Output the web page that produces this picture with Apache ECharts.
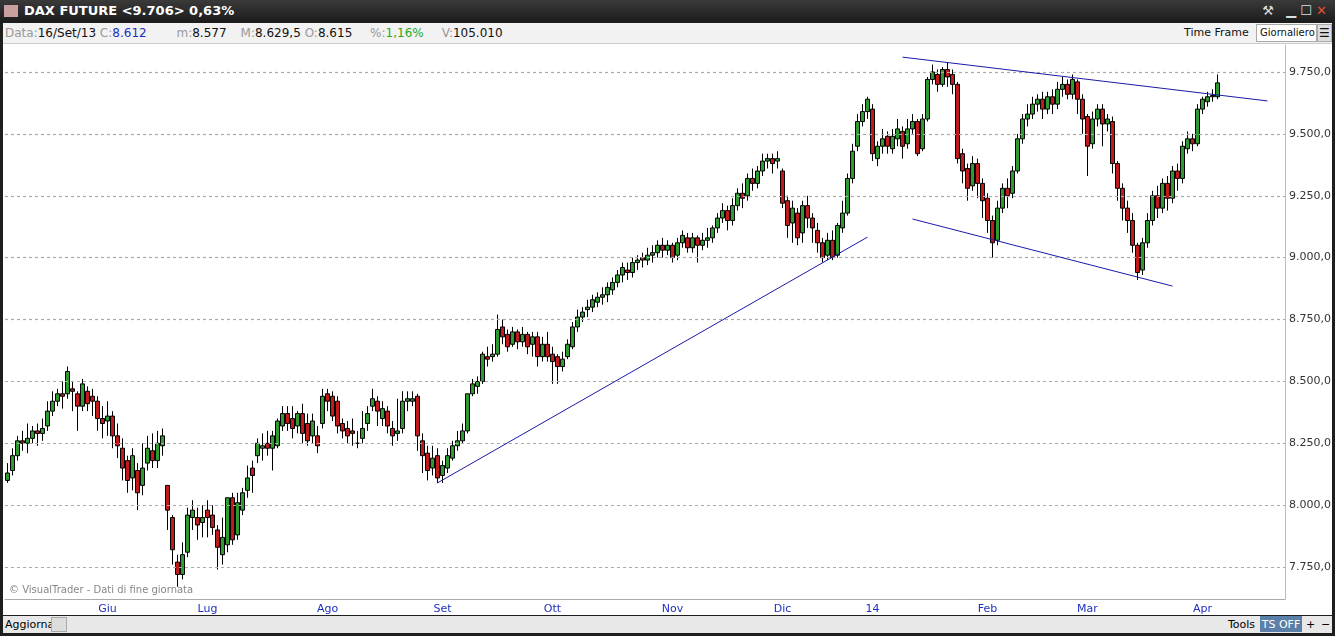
<!DOCTYPE html>
<html><head><meta charset="utf-8">
<script src="https://cdn.jsdelivr.net/npm/echarts@6/dist/echarts.min.js"></script>
<style>
body{margin:0;width:1335px;height:636px;background:#1e1e1e;font-family:Tahoma,"DejaVu Sans",sans-serif;overflow:hidden;position:relative}
#title{position:absolute;left:0;top:0;width:1335px;height:22px;background:linear-gradient(#3a3a3a,#1c1c1c);color:#fff;font:bold 13px "DejaVu Sans";line-height:22px}
#info{position:absolute;left:3px;top:23px;width:1329px;height:20px;background:#f2f2f2;font:12px "DejaVu Sans";line-height:20px;color:#999;border-bottom:1px solid #ccc}
#info b{font-weight:normal;color:#111}
#chart{position:absolute;left:3px;top:44px;width:1329px;height:571px;background:#fff}
#foot{position:absolute;left:3px;top:616px;width:1329px;height:17px;background:#e8e8e8;font:11px "DejaVu Sans";line-height:17px;color:#000}
</style></head><body>
<div id="title"><span style="display:inline-block;width:14px;height:12px;background:#c9a0a0;margin:0 6px 0 4px;vertical-align:-2px"></span>DAX FUTURE &lt;9.706&gt; 0,63%
<span style="position:absolute;right:8px;top:0;color:#ddd;font-weight:normal">⚒&nbsp;&nbsp;&nbsp;▁ ☐ <span style="color:#e05030">✕</span></span></div>
<div id="info"><span style="margin-left:2px">Data:<b>16/Set/13</b> C:<b style="color:#2030c0">8.612</b></span>
<span style="margin-left:26px">m:<b>8.577</b></span><span style="margin-left:14px">M:<b>8.629,5</b></span> <span>O:<b>8.615</b></span>
<span style="margin-left:14px">%:<b style="color:#22aa22">1,16%</b></span><span style="margin-left:18px">V:<b>105.010</b></span>
<span style="position:absolute;left:1181px;color:#111;font-size:11px">Time Frame</span>
<span style="position:absolute;left:1253px;top:1px;width:56px;height:16px;line-height:16px;background:#fff;border:1px solid #aaa;color:#111;padding-left:3px;font-size:10px">Giornaliero</span>
<span style="position:absolute;left:1314px;top:1px;width:13px;height:16px;background:#ddd;border:1px solid #aaa;color:#111;text-align:center;line-height:16px">☰</span></div>
<div id="chart"></div>
<div id="foot"><span style="margin-left:2px">Aggiorna</span>
<span style="position:absolute;left:48px;top:1px;width:14px;height:13px;border:1px solid #aaa;background:#ddd"></span>
<span style="position:absolute;left:1225px">Tools</span>
<span style="position:absolute;left:1257px;top:0;width:42px;height:16px;background:#5a7fa8;color:#fff;text-align:center">TS OFF</span>
<span style="position:absolute;left:1303px">+</span><span style="position:absolute;left:1318px">−</span></div>
<script>
// candles: [open, close, low, high]
const candles = [
[8100,8130,8090,8170],[8140,8200,8120,8230],[8200,8260,8180,8280],[8260,8250,8220,8300],[8250,8270,8210,8330],[8270,8300,8250,8320],[8300,8290,8240,8330],[8290,8310,8260,8350],[8320,8380,8300,8420],[8380,8420,8360,8460],
[8420,8450,8400,8470],[8450,8440,8390,8500],[8450,8540,8430,8560],[8470,8460,8380,8500],[8450,8400,8300,8460],[8400,8490,8380,8510],[8460,8410,8380,8480],[8440,8420,8360,8470],[8420,8350,8300,8440],[8350,8330,8270,8400],
[8340,8360,8280,8420],[8360,8280,8230,8380],[8280,8240,8190,8330],[8230,8150,8100,8270],[8180,8100,8050,8200],[8110,8200,8060,8230],[8140,8050,7980,8170],[8080,8150,8040,8250],[8170,8230,8140,8280],[8220,8180,8150,8290],
[8180,8250,8150,8300],[8240,8280,8200,8310],[8080,7980,7900,8080],[7950,7820,7760,7960],[7770,7720,7670,7800],[7720,7800,7700,7850],[7810,7960,7790,7990],[7950,7980,7900,8020],[7950,7920,7860,7990],[7930,7950,7870,8000],
[7980,7950,7870,8020],[7960,7910,7880,8000],[7900,7830,7740,7920],[7800,7870,7760,7950],[7840,8030,7810,8030],[8030,7860,7840,8050],[7880,8010,7860,8050],[7980,8050,7960,8070],[8060,8110,8030,8160],[8150,8120,8050,8180],
[8200,8250,8170,8270],[8230,8240,8180,8290],[8250,8230,8200,8300],[8230,8280,8140,8300],[8240,8340,8230,8350],[8320,8370,8300,8400],[8370,8330,8300,8400],[8350,8310,8270,8400],[8320,8370,8290,8380],[8370,8290,8250,8410],
[8330,8260,8240,8370],[8280,8340,8250,8370],[8280,8240,8210,8320],[8330,8440,8310,8470],[8450,8420,8380,8470],[8440,8360,8340,8460],[8420,8320,8290,8440],[8330,8300,8270,8350],[8310,8280,8250,8340],[8300,8290,8240,8350],
[8250,8250,8230,8300],[8270,8310,8250,8380],[8330,8370,8300,8400],[8400,8430,8380,8470],[8420,8380,8320,8440],[8350,8390,8320,8420],[8380,8320,8290,8400],[8310,8280,8240,8340],[8290,8300,8260,8430],[8310,8420,8290,8460],
[8420,8430,8380,8460],[8420,8430,8400,8460],[8440,8280,8220,8450],[8260,8200,8130,8290],[8210,8140,8100,8240],[8150,8190,8120,8240],[8200,8110,8090,8230],[8120,8160,8090,8180],[8150,8200,8130,8230],[8190,8240,8180,8260],
[8240,8260,8220,8300],[8260,8300,8250,8330],[8300,8450,8290,8450],[8450,8490,8440,8510],[8480,8500,8450,8520],[8500,8610,8490,8620],[8600,8590,8560,8640],[8600,8610,8580,8650],[8610,8710,8600,8770],[8720,8680,8650,8750],
[8690,8640,8620,8710],[8650,8700,8640,8720],[8700,8660,8630,8710],[8660,8690,8640,8720],[8690,8640,8610,8700],[8650,8680,8600,8700],[8680,8600,8560,8700],[8600,8650,8580,8680],[8650,8600,8580,8700],[8610,8580,8490,8640],
[8600,8560,8490,8610],[8560,8590,8540,8620],[8600,8650,8590,8670],[8640,8720,8630,8740],[8720,8760,8700,8790],[8760,8780,8740,8800],[8790,8800,8760,8830],[8800,8830,8780,8850],[8820,8840,8800,8860],[8840,8850,8810,8880],
[8850,8880,8820,8900],[8870,8900,8850,8920],[8900,8930,8880,8950],[8930,8960,8900,8980],[8950,8940,8910,8980],[8940,8980,8920,9000],[8980,8990,8950,9010],[9000,8990,8960,9020],[8990,9010,8970,9040],[9010,9020,8980,9050],
[9020,9050,9000,9070],[9050,9030,9000,9080],[9030,9050,9010,9070],[9050,9000,8980,9060],[9010,9060,8990,9080],[9060,9090,9040,9110],[9080,9040,9020,9100],[9040,9080,9020,9100],[9080,9050,8980,9090],[9050,9070,9030,9100],
[9070,9080,9040,9120],[9080,9120,9060,9130],[9120,9160,9100,9180],[9160,9190,9140,9220],[9190,9150,9110,9210],[9150,9210,9130,9240],[9210,9260,9190,9280],[9260,9240,9200,9300],[9250,9320,9230,9340],[9320,9300,9270,9360],
[9300,9350,9280,9370],[9350,9390,9330,9420],[9390,9400,9360,9420],[9400,9380,9340,9420],[9390,9400,9360,9430],[9350,9220,9200,9360],[9230,9130,9080,9250],[9140,9200,9060,9230],[9180,9080,9050,9200],[9100,9210,9060,9230],
[9210,9160,9120,9250],[9160,9120,9060,9180],[9110,9060,9020,9140],[9060,9000,8980,9080],[9010,9070,8990,9100],[9070,9000,8990,9110],[9010,9130,9000,9140],[9120,9180,9100,9230],[9180,9320,9170,9340],[9320,9430,9300,9460],
[9450,9550,9430,9580],[9550,9590,9530,9620],[9590,9640,9560,9650],[9600,9420,9390,9620],[9400,9450,9370,9470],[9450,9480,9420,9520],[9490,9450,9420,9510],[9440,9490,9420,9520],[9480,9520,9450,9560],[9510,9450,9400,9530],
[9460,9520,9440,9560],[9520,9550,9500,9580],[9550,9420,9410,9560],[9440,9560,9430,9580],[9560,9720,9550,9730],[9720,9750,9700,9780],[9740,9700,9670,9760],[9700,9760,9690,9770],[9760,9730,9690,9790],[9740,9700,9660,9760],
[9700,9400,9380,9710],[9420,9350,9300,9440],[9360,9280,9230,9380],[9290,9380,9270,9410],[9380,9300,9240,9400],[9300,9230,9160,9320],[9240,9150,9100,9260],[9150,9060,9000,9170],[9070,9200,9050,9230],[9200,9280,9180,9300],
[9280,9250,9200,9320],[9260,9350,9240,9370],[9350,9480,9340,9500],[9480,9560,9460,9580],[9560,9580,9530,9620],[9580,9620,9560,9650],[9620,9640,9590,9660],[9640,9600,9560,9670],[9600,9650,9580,9670],[9650,9620,9580,9680],
[9620,9680,9600,9710],[9680,9700,9650,9730],[9700,9660,9640,9720],[9660,9720,9640,9740],[9710,9640,9580,9720],[9640,9560,9500,9660],[9570,9450,9330,9580],[9460,9560,9440,9590],[9560,9600,9530,9620],[9600,9540,9450,9620],
[9540,9560,9510,9580],[9550,9380,9340,9570],[9380,9280,9230,9390],[9280,9200,9150,9300],[9200,9150,9100,9230],[9150,9050,9020,9180],[9050,8940,8910,9060],[8950,9060,8930,9080],[9060,9150,9040,9180],[9150,9250,9130,9270],
[9250,9200,9160,9290],[9200,9300,9180,9320],[9300,9240,9190,9330],[9240,9350,9220,9370],[9350,9320,9270,9380],[9320,9450,9300,9470],[9440,9480,9420,9510],[9480,9460,9430,9500],[9460,9600,9450,9620],[9600,9640,9580,9650],
[9630,9650,9610,9670],[9650,9655,9630,9680],[9650,9706,9640,9740]
];
const emptySlots = 13;
const monthIdx = [20,40,64,87,109,133,155,173,196,216,239];
const monthLabels = ['Giu','Lug','Ago','Set','Ott','Nov','Dic','14','Feb','Mar','Apr'];
const priceTicks = [7750,8000,8250,8500,8750,9000,9250,9500,9750];
const lastPrice = 9706;
const trendLines = [[[86,8090],[172,9083]],[[179,9810],[252,9633]],[[181,9156],[233,8885]]];

const cats = [];
for (let i=0;i<candles.length+emptySlots;i++) cats.push(String(i));
const mMap = {}; monthIdx.forEach((v,k)=>mMap[v]=monthLabels[k]);
const fmt = v => v.toLocaleString('de-DE',{minimumFractionDigits:1,maximumFractionDigits:1});

const chart = echarts.init(document.getElementById('chart'));
chart.setOption({
  animation:false,
  grid:{left:2,right:47,top:1,bottom:16},
  xAxis:{type:'category',data:cats,boundaryGap:true,
    axisLine:{lineStyle:{color:'#aaa'}},
    axisTick:{interval:(i)=>mMap[i]!==undefined,length:4,lineStyle:{color:'#2030c0'}},
    axisLabel:{interval:(i)=>mMap[i]!==undefined,formatter:(v,i)=>mMap[i]||'',
      color:(v,i)=>mMap[i]==='14'?'#cc0000':'#2030c0',fontSize:11,fontFamily:'DejaVu Sans',margin:5},
    splitLine:{show:false}},
  yAxis:{type:'value',position:'right',min:7621,max:9859,
    axisLine:{show:true,lineStyle:{color:'#bbb'}},axisTick:{show:false},axisLabel:{show:false},splitLine:{show:false}},
  graphic:[{type:'text',left:6,bottom:20,style:{text:'© VisualTrader - Dati di fine giornata',fill:'#888',font:'10px "DejaVu Sans"'}}],
  series:[{type:'candlestick',data:candles.map(c=>[c[0],c[1],c[2],c[3]]),barWidth:5,
    itemStyle:{color:'#2f9a2f',color0:'#c01a1a',borderColor:'#000',borderColor0:'#000',borderWidth:1},
    markLine:{silent:true,symbol:'none',animation:false,
      data:[
        ...priceTicks.map(v=>({yAxis:v,lineStyle:{color:'#aaa',type:[3,3],width:1.2},
          label:{show:true,position:'end',formatter:fmt(v),color:'#333',fontSize:11,fontFamily:'DejaVu Sans',distance:4}})),
        {yAxis:lastPrice,lineStyle:{opacity:0},label:{show:true,position:'end',formatter:fmt(lastPrice),
          color:'#000',backgroundColor:'#ffff33',fontSize:11,fontFamily:'DejaVu Sans',padding:[1,1],distance:2}},
        ...trendLines.map(t=>[{coord:[String(t[0][0]),t[0][1]],lineStyle:{color:'#1a1aa8',type:'solid',width:1}},{coord:[String(t[1][0]),t[1][1]]}])
      ]}}]
});
</script></body></html>
